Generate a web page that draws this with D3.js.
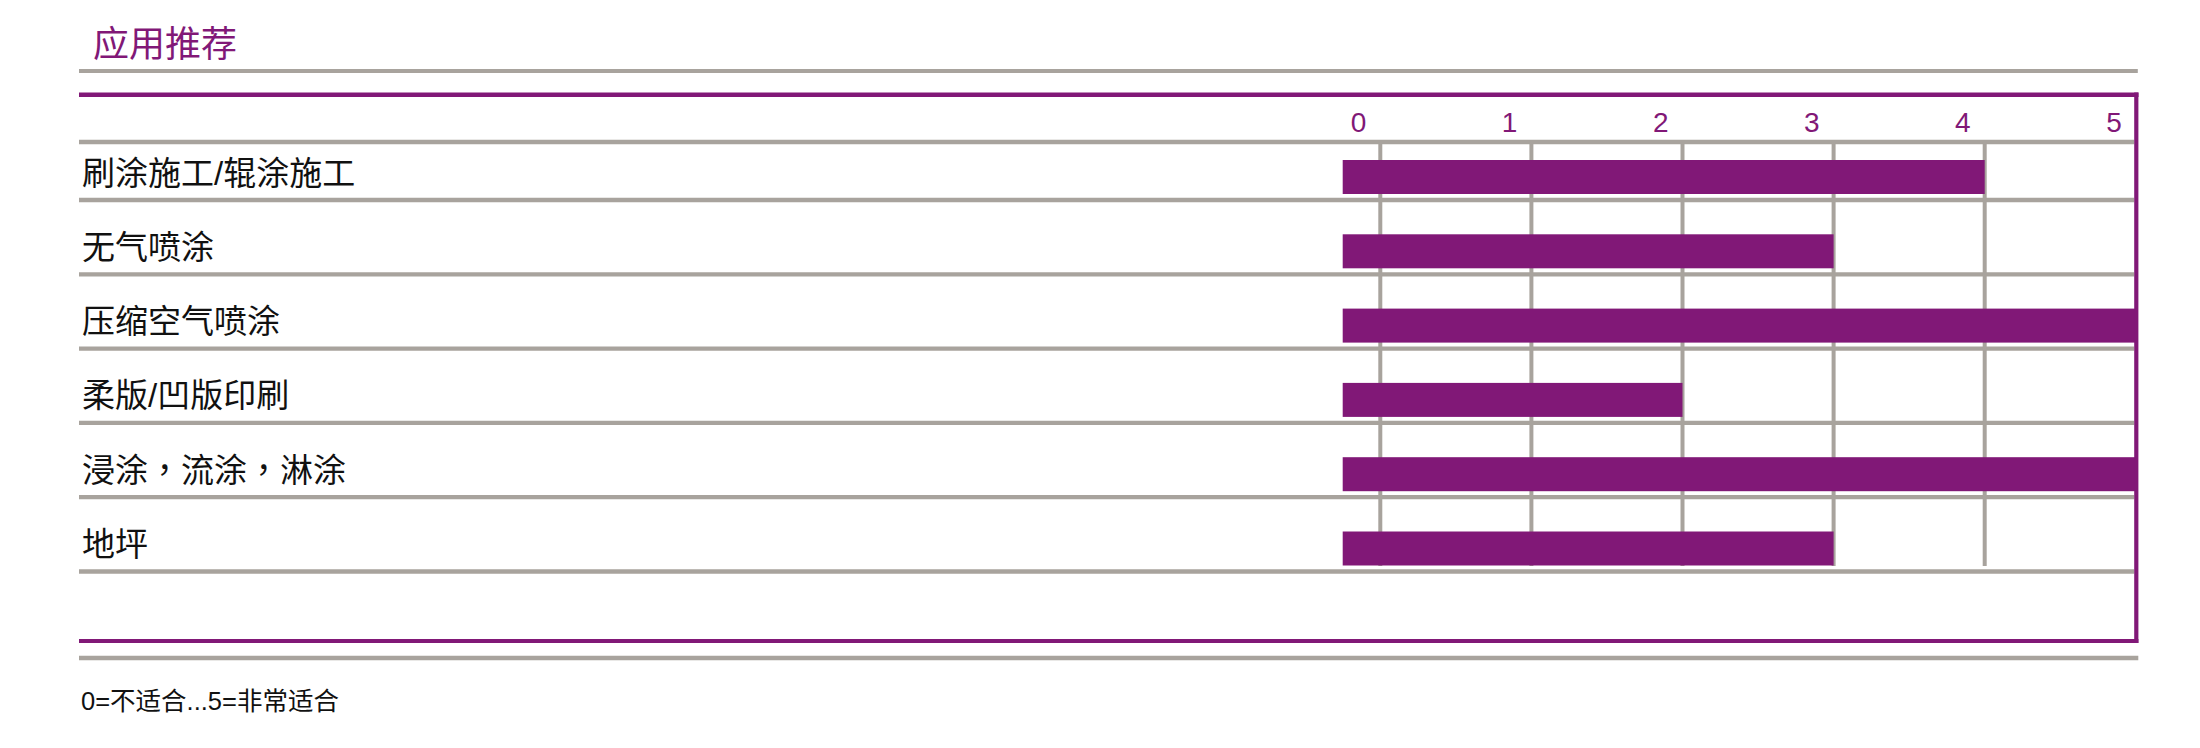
<!DOCTYPE html>
<html>
<head>
<meta charset="utf-8">
<script src="https://cdn.jsdelivr.net/npm/d3@7"></script>
<style>
  html, body { margin: 0; padding: 0; background: #fff; }
  svg { display: block; }
</style>
</head>
<body>
<svg id="chart" width="2200" height="748"></svg>
<script>
const title = "应用推荐";
const categories = ["刷涂施工/辊涂施工", "无气喷涂", "压缩空气喷涂", "柔版/凹版印刷", "浸涂，流涂，淋涂", "地坪"];
const values = [4, 3, 5, 2, 5, 3];
const tickValues = [0, 1, 2, 3, 4, 5];
const tickLabels = ["0", "1", "2", "3", "4", "5"];
const footnote = "0=不适合...5=非常适合";

const PURPLE = "#811877";
const GRAY = "#a8a39d";
const FONT = "'Liberation Sans', Arial, 'Noto Sans CJK SC', sans-serif";
const FONT_PUNCT = "'Noto Sans CJK TC', 'Noto Sans CJK SC', sans-serif";

const svg = d3.select("#chart");

const left = 79, right = 2136.3;
const x = d3.scaleLinear().domain([0, 5]).range([1380.3, 2135.8]);
const y = d3.scaleBand().domain(categories).range([125.7, 571.5]).paddingInner(0).paddingOuter(0);

// title
svg.append("text")
  .attr("x", 93).attr("y", 57)
  .attr("font-family", FONT).attr("font-size", 36)
  .attr("fill", PURPLE)
  .text(title);

// title underline
svg.append("line")
  .attr("x1", left).attr("x2", right + 1.5)
  .attr("y1", 71).attr("y2", 71)
  .attr("stroke", GRAY).attr("stroke-width", 4);

// row separator lines (header + each row bottom)
const rowLines = [142].concat(categories.map(c => y(c) + y.bandwidth()));
svg.append("g").selectAll("line").data(rowLines).join("line")
  .attr("x1", left).attr("x2", right - 2)
  .attr("y1", d => d).attr("y2", d => d)
  .attr("stroke", GRAY).attr("stroke-width", 4.3);

// vertical gridlines
svg.append("g").selectAll("line").data(tickValues.slice(0, 5)).join("line")
  .attr("x1", d => x(d)).attr("x2", d => x(d))
  .attr("y1", 142).attr("y2", 566)
  .attr("stroke", GRAY).attr("stroke-width", 4);

// tick labels
svg.append("g").selectAll("text").data(tickValues).join("text")
  .attr("x", d => x(d) - 21.8)
  .attr("y", 131.7)
  .attr("text-anchor", "middle")
  .attr("font-family", FONT).attr("font-size", 28)
  .attr("fill", PURPLE)
  .text((d, i) => tickLabels[i]);

// bars
const barLead = 37.6;
svg.append("g").selectAll("rect").data(values).join("rect")
  .attr("x", x(0) - barLead)
  .attr("y", (d, i) => y(categories[i]) + 34.3)
  .attr("width", d => x(d) - x(0) + barLead)
  .attr("height", 34)
  .attr("fill", PURPLE);

// category labels (full-width commas drawn with a centred-comma face)
const labels = svg.append("g").selectAll("text").data(categories).join("text")
  .attr("x", 82)
  .attr("y", d => y(d) + 58.8)
  .attr("font-family", FONT).attr("font-size", 33)
  .attr("fill", "#111");
labels.each(function(d) {
  const t = d3.select(this);
  const parts = d.split(/(，)/);
  parts.forEach(p => {
    if (!p) return;
    const ts = t.append("tspan").text(p);
    if (p === "，") ts.attr("font-family", FONT_PUNCT);
  });
});

// purple frame: top, right, bottom
svg.append("line")
  .attr("x1", left).attr("x2", right + 2.2)
  .attr("y1", 94.7).attr("y2", 94.7)
  .attr("stroke", PURPLE).attr("stroke-width", 4.5);
svg.append("line")
  .attr("x1", right).attr("x2", right)
  .attr("y1", 92.5).attr("y2", 643)
  .attr("stroke", PURPLE).attr("stroke-width", 4.2);
svg.append("line")
  .attr("x1", left).attr("x2", right + 2.1)
  .attr("y1", 641).attr("y2", 641)
  .attr("stroke", PURPLE).attr("stroke-width", 4.2);

// bottom gray line
svg.append("line")
  .attr("x1", left).attr("x2", right + 2)
  .attr("y1", 658).attr("y2", 658)
  .attr("stroke", GRAY).attr("stroke-width", 4.3);

// footnote
svg.append("text")
  .attr("x", 81).attr("y", 710)
  .attr("font-family", FONT).attr("font-size", 25.5)
  .attr("fill", "#111")
  .text(footnote);
</script>
</body>
</html>
